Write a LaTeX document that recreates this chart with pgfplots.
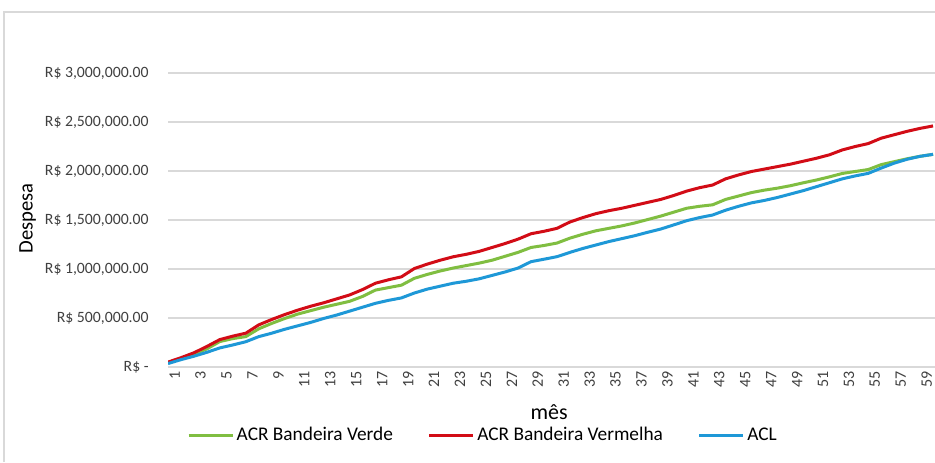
\documentclass[border=0pt]{standalone}
\usepackage{fontspec}
\setmainfont{Carlito}
\usepackage{pgfplots}
\usepackage{pgfplotstable}
\pgfplotsset{compat=1.18}
\definecolor{cverde}{RGB}{128,190,65}
\definecolor{cverm}{RGB}{210,12,22}
\definecolor{cacl}{RGB}{30,152,215}
\definecolor{cgrid}{RGB}{217,217,217}
\pgfplotstableread{
m verde vermelha acl
1 45 50 35
2 85 95 75
3 130 145 110
4 185 210 150
5 260 280 195
6 290 315 225
7 310 345 258
8 390 430 310
9 445 485 345
10 495 535 385
11 540 580 420
12 575 620 455
13 610 655 495
14 640 695 530
15 670 735 570
16 720 790 610
17 785 855 650
18 810 890 680
19 835 920 705
20 905 1005 755
21 945 1050 795
22 980 1090 825
23 1010 1125 855
24 1035 1150 875
25 1060 1180 900
26 1090 1220 935
27 1130 1260 970
28 1170 1305 1010
29 1220 1360 1075
30 1240 1385 1100
31 1265 1415 1126
32 1315 1480 1170
33 1355 1525 1210
34 1390 1565 1245
35 1415 1595 1280
36 1440 1620 1310
37 1470 1650 1340
38 1505 1680 1375
39 1540 1710 1408
40 1580 1750 1450
41 1620 1795 1493
42 1640 1830 1525
43 1655 1857 1551
44 1710 1920 1600
45 1745 1960 1640
46 1780 1995 1675
47 1805 2020 1700
48 1825 2045 1730
49 1850 2070 1765
50 1880 2100 1800
51 1908 2130 1840
52 1940 2165 1880
53 1975 2215 1920
54 1995 2250 1950
55 2015 2280 1976
56 2065 2335 2030
57 2095 2370 2080
58 2125 2405 2120
59 2150 2435 2150
60 2170 2460 2170
}\dados
\begin{document}
\begin{tikzpicture}
\useasboundingbox (0,0) rectangle (701.25pt,346.5pt);
\fill[white] (0,0) rectangle (701.25pt,346.5pt);
\draw[cgrid, line width=0.9pt] (3pt,0) -- (3pt,337.5pt) -- (702pt,337.5pt);
\begin{axis}[
  at={(126pt,71.25pt)}, anchor=south west,
  scale only axis, width=575.25pt, height=220.5pt,
  xmin=1, xmax=60.15, ymin=0, ymax=3000000,
  axis line style={draw=none},
  major tick length=0pt,
  /pgf/number format/assume math mode=true,
  ymajorgrids, grid style={cgrid, line width=0.9pt},
  ytick={0,500000,1000000,1500000,2000000,2500000,3000000},
  yticklabels={{R\$ -},{R\$ 500,000.00},{R\$ 1,000,000.00},{R\$ 1,500,000.00},{R\$ 2,000,000.00},{R\$ 2,500,000.00},{R\$ 3,000,000.00}},
  yticklabel style={font=\fontsize{11.8}{14}\selectfont, text=black!75, anchor=east, xshift=-11pt},
  xtick={1,3,...,59},
  xticklabel style={font=\fontsize{12}{14}\selectfont, text=black!75, rotate=90, anchor=east, xshift=0pt, yshift=-5pt},
  scaled y ticks=false,
  ylabel={Despesa},
  ylabel style={font=\fontsize{15.5}{18}\selectfont, at={(axis description cs:-0.183,0.505)}, anchor=center, rotate=0},
  xlabel={mês},
  xlabel style={font=\fontsize{16.5}{18}\selectfont, at={(axis description cs:0.497,-0.153)}, anchor=center},
  legend columns=3,
  legend style={at={(axis description cs:0.411,-0.232)}, anchor=center, draw=none, fill=none,
    font=\fontsize{14.5}{16}\selectfont,
    /tikz/every even column/.append style={column sep=24pt},
    inner sep=0pt},
  legend image code/.code={\draw[#1, line width=2.25pt] (0pt,0pt) -- (33pt,0pt);},
  every axis plot/.append style={line width=2.25pt, line join=round},
]
\addplot[cverde, mark=none] table[x=m, y expr=\thisrow{verde}*1000] {\dados};
\addlegendentry{ACR Bandeira Verde}
\addplot[cverm, mark=none] table[x=m, y expr=\thisrow{vermelha}*1000] {\dados};
\addlegendentry{ACR Bandeira Vermelha}
\addplot[cacl, mark=none] table[x=m, y expr=\thisrow{acl}*1000] {\dados};
\addlegendentry{ACL}
\end{axis}
\end{tikzpicture}
\end{document}
